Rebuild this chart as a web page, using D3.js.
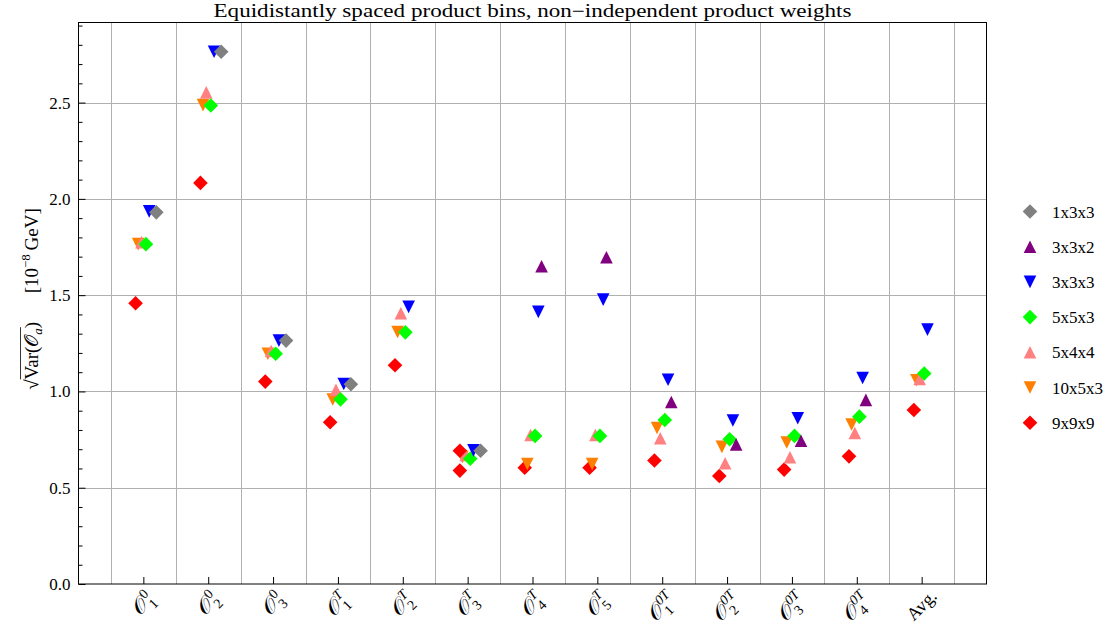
<!DOCTYPE html>
<html lang="en">
<head>
<meta charset="UTF-8">
<title>Equidistantly spaced product bins</title>
<script src="https://d3js.org/d3.v7.min.js"></script>
<style>
    body { margin: 0; background: #fff; }
    svg text { font-family: "Liberation Serif", "DejaVu Serif", serif; fill: #000; }
    .grid line { stroke: #b0b0b0; stroke-width: 1; shape-rendering: crispEdges; }
    .axis line { stroke: #000; stroke-width: 1; }
    .axis path { display: none; }
</style>
</head>
<body>
<div id="canvas"></div>
<script>
    // categories (tick labels): base letter, superscript, subscript
    var labelSup = ["0", "0", "0", "T", "T", "T", "T", "T", "0T", "0T", "0T", "0T", ""];
    var labelSub = ["1", "2", "3", "1", "2", "3", "4", "5", "1", "2", "3", "4", ""];
    var labelText = ["", "", "", "", "", "", "", "", "", "", "", "", "Avg."];

    // series values, sqrt(Var) in 10^-8 GeV
    var v1x3x3  = [1.930, 2.764, 1.264, 1.037, null, 0.692, null, null, null, null, null, null, null];
    var v3x3x2  = [null, null, null, null, null, null, 1.650, 1.697, 0.945, 0.725, 0.744, 0.956, null];
    var v3x3x3  = [1.935, 2.764, 1.264, 1.039, 1.439, 0.694, 1.413, 1.477, 1.061, 0.849, 0.861, 1.070, 1.321];
    var v5x5x3  = [1.765, 2.485, 1.196, 0.959, 1.307, 0.651, 0.769, 0.769, 0.852, 0.752, 0.769, 0.869, 1.093];
    var v5x4x4  = [1.775, 2.553, 1.210, 1.008, 1.406, 0.670, 0.774, 0.774, 0.757, 0.627, 0.658, 0.784, 1.065];
    var v10x5x3 = [1.765, 2.487, 1.196, 0.958, 1.309, 0.660, 0.623, 0.623, 0.810, 0.712, 0.735, 0.828, 1.058];
    var v9x9x9  = [1.458, 2.083, 1.051, 0.840, 1.136, 0.589, 0.604, 0.604, 0.641, 0.561, 0.594, 0.663, 0.904];
    // a second 9x9x9 marker shows up in the O_3^T column
    var v9x9x9b = [null, null, null, null, null, 0.692, null, null, null, null, null, null, null];

    var seriesNames = ["1x3x3", "3x3x2", "3x3x3", "5x5x3", "5x4x4", "10x5x3", "9x9x9"];

    var series = [
        {name: "1x3x3",  values: v1x3x3,  color: "#808080", shape: "diamond", off: 0.20},
        {name: "3x3x2",  values: v3x3x2,  color: "#800080", shape: "up",      off: 0.14},
        {name: "3x3x3",  values: v3x3x3,  color: "#0000ff", shape: "down",    off: 0.09},
        {name: "5x5x3",  values: v5x5x3,  color: "#00ff00", shape: "diamond", off: 0.04},
        {name: "5x4x4",  values: v5x4x4,  color: "#ff8080", shape: "up",      off: -0.03},
        {name: "10x5x3", values: v10x5x3, color: "#ff8000", shape: "down",    off: -0.08},
        {name: "9x9x9",  values: v9x9x9,  color: "#ff0000", shape: "diamond", off: -0.12}
    ];
    var extra = {name: "9x9x9", values: v9x9x9b, color: "#ff0000", shape: "diamond", off: -0.12};

    var W = 1113, H = 634;
    var pLeft = 78.5, pRight = 986.5, pTop = 22.5, pBottom = 584;

    var svg = d3.select("#canvas").append("svg")
        .attr("width", W).attr("height", H);

    var x = d3.scaleLinear().domain([-1, 13]).range([pLeft, pRight]);
    var y = d3.scaleLinear().domain([0, 2.916]).range([pBottom, pTop]);

    // marker paths
    function shapePath(shape) {
        if (shape === "diamond") return "M0,-7.3L7.3,0L0,7.3L-7.3,0Z";
        if (shape === "up") return "M0,-6.3L6.3,6.3L-6.3,6.3Z";
        return "M0,6.3L6.3,-6.3L-6.3,-6.3Z";
    }

    // gridlines
    var grid = svg.append("g").attr("class", "grid");
    grid.selectAll(".vg").data(d3.range(-0.5, 13, 1)).enter().append("line")
        .attr("x1", d => Math.round(x(d)) + 0.5).attr("x2", d => Math.round(x(d)) + 0.5)
        .attr("y1", pTop).attr("y2", pBottom);
    grid.selectAll(".hg").data([0.5, 1.0, 1.5, 2.0, 2.5]).enter().append("line")
        .attr("x1", pLeft).attr("x2", pRight)
        .attr("y1", d => Math.round(y(d)) + 0.5).attr("y2", d => Math.round(y(d)) + 0.5);

    // y axis, inward ticks
    svg.append("g").attr("class", "axis")
        .attr("transform", "translate(" + pLeft + ",0)")
        .call(d3.axisLeft(y).tickValues([0, 0.5, 1.0, 1.5, 2.0, 2.5]).tickSize(-7)
            .tickPadding(8).tickFormat(d3.format(".1f")))
        .call(g => g.selectAll("text").style("font-size", "17px")
            .style("font-family", "Liberation Serif, DejaVu Serif, serif"));
    svg.append("g").attr("class", "axis")
        .attr("transform", "translate(" + pLeft + ",0)")
        .call(d3.axisLeft(y).tickValues(d3.range(0.1, 2.91, 0.1).filter(d => Math.abs(d * 2 - Math.round(d * 2)) > 0.01))
            .tickSize(-4).tickFormat(""));

    // x axis, inward ticks
    svg.append("g").attr("class", "axis")
        .attr("transform", "translate(0," + pBottom + ")")
        .call(d3.axisBottom(x).tickValues(d3.range(13)).tickSize(-7).tickFormat(""));

    // frame
    svg.append("rect")
        .attr("x", pLeft).attr("y", pTop)
        .attr("width", pRight - pLeft).attr("height", pBottom - pTop)
        .style("fill", "none").style("stroke", "#000").style("stroke-width", 1);

    // x tick labels, rotated 45 degrees
    var xl = svg.append("g");
    d3.range(13).forEach(function(i) {
        var outer = xl.append("g");
        var inner = outer.append("g").attr("transform", "rotate(-45)");
        if (labelText[i]) {
            inner.append("text").text(labelText[i]).style("font-size", "18px");
        } else {
            var o = inner.append("text").text("\u{1D4AA}").style("font-size", "22px");
            var ow = o.node().getComputedTextLength();
            inner.append("text").text(labelSup[i]).attr("x", ow + 0.5).attr("y", -9)
                .style("font-size", "14px").style("font-style", labelSup[i] === "0" ? "normal" : "italic");
            inner.append("text").text(labelSub[i]).attr("x", ow + 0.5).attr("y", 5)
                .style("font-size", "14px");
        }
        var bb = outer.node().getBBox();
        outer.attr("transform", "translate(" + (x(i) - (bb.x + bb.width / 2)) + "," + (586 - bb.y) + ")");
    });

    // markers, drawn in reverse order so the first series ends up on top
    var marks = svg.append("g");
    series.slice().reverse().concat([extra]).forEach(function(s) {
        marks.selectAll(null)
            .data(s.values.map((v, i) => ({i: i, v: v})).filter(d => d.v !== null))
            .enter().append("path")
            .attr("d", shapePath(s.shape))
            .attr("transform", d => "translate(" + x(d.i + s.off) + "," + y(d.v) + ")")
            .style("fill", s.color);
    });

    // legend
    var lg = svg.append("g");
    series.forEach(function(s, k) {
        var yy = 211.5 + k * 35.2;
        lg.append("path").attr("d", shapePath(s.shape))
            .attr("transform", "translate(1030," + yy + ")").style("fill", s.color);
        lg.append("text").text(seriesNames[k]).attr("x", 1052).attr("y", yy + 6)
            .style("font-size", "17px");
    });

    // title
    svg.append("text")
        .text("Equidistantly spaced product bins, non\u2212independent product weights")
        .attr("x", (pLeft + pRight) / 2).attr("y", 17)
        .attr("text-anchor", "middle")
        .attr("textLength", 638).attr("lengthAdjust", "spacingAndGlyphs")
        .style("font-size", "18px");

    // y label: sqrt(Var(O_a))  [10^-8 GeV]
    var yl = svg.append("g");
    var yin = yl.append("g").attr("transform", "rotate(-90)");
    var t = yin.append("text").style("font-size", "19px");
    t.append("tspan").text("\u221A");
    t.append("tspan").text("Var(");
    t.append("tspan").text("\u{1D4AA}");
    t.append("tspan").text("a").style("font-size", "13px").style("font-style", "italic").attr("dy", 4);
    t.append("tspan").text(")").attr("dy", -4);
    t.append("tspan").text("\u2003\u2002[10");
    t.append("tspan").text("\u22128").style("font-size", "13px").attr("dy", -8);
    t.append("tspan").text("\u2009GeV]").attr("dy", 8);
    var n = t.node();
    var ov0 = n.getStartPositionOfChar(1).x;
    var ov1 = n.getEndPositionOfChar(7).x;
    yin.append("line").attr("x1", ov0).attr("x2", ov1 + 1).attr("y1", -17.5).attr("y2", -17.5)
        .style("stroke", "#000").style("stroke-width", 0.8);
    var yb = yl.node().getBBox();
    yl.attr("transform", "translate(" + (38) + "," + (299 - (yb.y + yb.height / 2)) + ")");
</script>
</body>
</html>
